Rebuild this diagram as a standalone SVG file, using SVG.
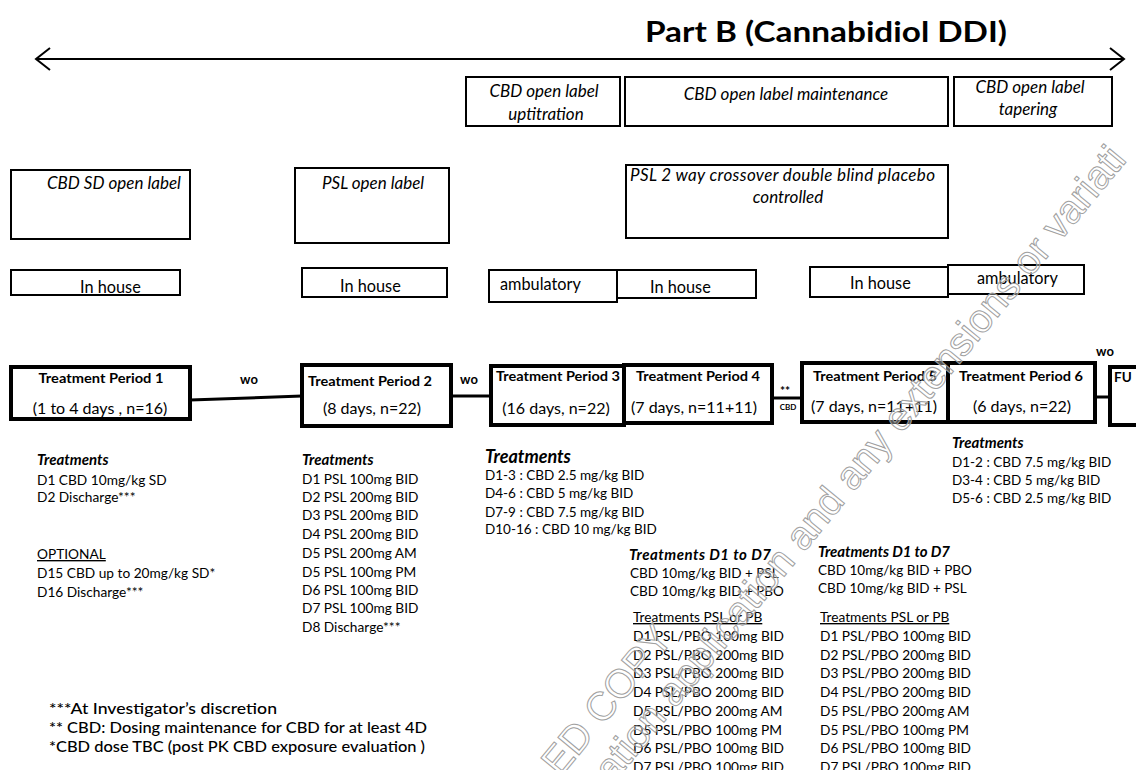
<svg xmlns="http://www.w3.org/2000/svg" width="1136" height="770" viewBox="0 0 1136 770">
<style>
text{font-family:Lato,"Liberation Sans",sans-serif;fill:#000}
.b{fill:#fff;stroke:#000;stroke-width:2}
.tp{fill:#fff;stroke:#000;stroke-width:4}
.it{font-style:italic;font-size:17px}
.lb{font-size:16.3px}
.tpt{font-weight:bold;font-size:13.5px}
.tpd{font-size:16px}
.hd{font-weight:bold;font-style:italic;font-size:15px}
.hd3{font-weight:bold;font-style:italic;font-size:18px}
.t{font-size:13.7px}
.t3{font-size:13.5px}
.fn{font-size:16px;font-weight:500}
.wo{font-weight:bold;font-size:13px}
.wm{font-family:"Liberation Sans",sans-serif;font-size:40px;fill:#fff;fill-opacity:.35;stroke:#a0a0a0;stroke-width:1}
.c{text-anchor:middle}
.ln{stroke:#000;fill:none}
</style>

<g id="title"><text x="645" y="42" font-weight="bold" font-size="29" textLength="362" lengthAdjust="spacingAndGlyphs">Part B (Cannabidiol DDI)</text></g>

<g id="connectors">
<g id="timeline-arrow">
<line class="ln" x1="37" y1="59" x2="1123" y2="59" stroke-width="2"/>
<polyline class="ln" points="50,48 36,59 50,70" stroke-width="2"/>
<polyline class="ln" points="1110,48 1124,59 1110,70" stroke-width="2"/>
</g>
<line class="ln" x1="190" y1="400" x2="302" y2="396" stroke-width="3"/>
<text class="wo c" x="249" y="384">wo</text>
<line class="ln" x1="451" y1="396" x2="491" y2="396" stroke-width="3"/>
<text class="wo c" x="469" y="384">wo</text>
<line class="ln" x1="772" y1="398" x2="802" y2="398" stroke-width="3"/>
<text class="c" x="785" y="395" font-size="12" font-weight="bold">**</text>
<text class="c" x="788" y="410" font-size="8" font-weight="bold">CBD</text>
<line class="ln" x1="1095" y1="397" x2="1110" y2="397" stroke-width="3"/>
<text class="wo c" x="1105" y="356">wo</text>
</g>

<g id="phase-uptitration"><rect class="b" x="466" y="77" width="154" height="49"/>
<text class="it c" x="544" y="97">CBD open label</text><text class="it c" x="546" y="120">uptitration</text></g>
<g id="phase-maintenance"><rect class="b" x="625" y="77" width="323" height="49"/>
<text class="it c" x="786" y="100">CBD open label maintenance</text></g>
<g id="phase-tapering"><rect class="b" x="954" y="77" width="158" height="49"/>
<text class="it c" x="1030" y="93">CBD open label</text><text class="it c" x="1028" y="115">tapering</text></g>

<g id="cbd-sd-open-label"><rect class="b" x="11" y="170" width="179" height="69"/>
<text class="it" x="47" y="189">CBD SD open label</text></g>
<g id="psl-open-label"><rect class="b" x="295" y="168" width="154" height="75"/>
<text class="it" x="322" y="189">PSL open label</text></g>
<g id="psl-crossover"><rect class="b" x="626" y="165" width="322" height="73"/>
<text class="it" x="630" y="181" textLength="305" lengthAdjust="spacing">PSL 2 way crossover double blind placebo</text>
<text class="it c" x="788" y="203">controlled</text></g>

<g id="inhouse-1"><rect class="b" x="11" y="270" width="169" height="25"/><text class="lb" x="80" y="293">In house</text></g>
<g id="inhouse-2"><rect class="b" x="302" y="268" width="145" height="29"/><text class="lb" x="340" y="292">In house</text></g>
<g id="ambulatory-3"><rect class="b" x="489" y="270" width="128" height="32"/><text class="lb" x="500" y="290">ambulatory</text></g>
<g id="inhouse-4"><rect class="b" x="617" y="270" width="139" height="28"/><text class="lb" x="650" y="293">In house</text></g>
<g id="inhouse-5"><rect class="b" x="810" y="267" width="138" height="30"/><text class="lb" x="850" y="289">In house</text></g>
<g id="ambulatory-6"><rect class="b" x="948" y="265" width="136" height="29"/><text class="lb" x="977" y="284">ambulatory</text></g>

<g id="tp1"><rect class="tp" x="11" y="367" width="179" height="52"/>
<text class="tpt c" x="101" y="383" textLength="125" lengthAdjust="spacingAndGlyphs">Treatment Period 1</text>
<text class="tpd c" x="100" y="414">(1 to 4 days , n=16)</text></g>
<g id="tp2"><rect class="tp" x="302" y="365" width="149" height="61"/>
<text class="tpt c" x="370" y="386" textLength="124" lengthAdjust="spacingAndGlyphs">Treatment Period 2</text>
<text class="tpd c" x="372" y="414">(8 days, n=22)</text></g>
<g id="tp3"><rect class="tp" x="491" y="366" width="133" height="59"/>
<text class="tpt c" x="558" y="381" textLength="124" lengthAdjust="spacingAndGlyphs">Treatment Period 3</text>
<text class="tpd c" x="556" y="414">(16 days, n=22)</text></g>
<g id="tp4"><rect class="tp" x="624" y="365" width="148" height="58"/>
<text class="tpt c" x="698" y="381" textLength="124" lengthAdjust="spacingAndGlyphs">Treatment Period 4</text>
<text class="tpd c" x="694" y="413">(7 days, n=11+11)</text></g>
<g id="tp5"><rect class="tp" x="802" y="363" width="146" height="59"/>
<text class="tpt c" x="875" y="381" textLength="124" lengthAdjust="spacingAndGlyphs">Treatment Period 5</text>
<text class="tpd c" x="874" y="412">(7 days, n=11+11)</text></g>
<g id="tp6"><rect class="tp" x="948" y="363" width="147" height="59"/>
<text class="tpt c" x="1021" y="381" textLength="124" lengthAdjust="spacingAndGlyphs">Treatment Period 6</text>
<text class="tpd c" x="1022" y="412">(6 days, n=22)</text></g>
<g id="fu"><rect class="tp" x="1110" y="367" width="34" height="58"/>
<text class="tpt" x="1114" y="382">FU</text></g>

<g id="treatments-tp1">
<text class="hd" x="37" y="465">Treatments</text>
<text class="t" x="37" y="485">D1 CBD 10mg/kg SD</text>
<text class="t" x="37" y="502">D2 Discharge***</text>
<text class="t" x="37" y="559" text-decoration="underline">OPTIONAL</text>
<text class="t" x="37" y="578">D15 CBD up to 20mg/kg SD*</text>
<text class="t" x="37" y="597">D16 Discharge***</text>
</g>
<g id="treatments-tp2">
<text class="hd" x="302" y="465">Treatments</text>
<text class="t" x="302" y="484">D1 PSL 100mg BID</text>
<text class="t" x="302" y="502">D2 PSL 200mg BID</text>
<text class="t" x="302" y="520">D3 PSL 200mg BID</text>
<text class="t" x="302" y="539">D4 PSL 200mg BID</text>
<text class="t" x="302" y="558">D5 PSL 200mg AM</text>
<text class="t" x="302" y="577">D5 PSL 100mg PM</text>
<text class="t" x="302" y="595">D6 PSL 100mg BID</text>
<text class="t" x="302" y="613">D7 PSL 100mg BID</text>
<text class="t" x="302" y="632">D8 Discharge***</text>
</g>
<g id="treatments-tp3">
<text class="hd3" x="485" y="463">Treatments</text>
<text class="t3" x="485" y="480">D1-3 : CBD 2.5 mg/kg BID</text>
<text class="t3" x="485" y="498">D4-6 : CBD 5 mg/kg BID</text>
<text class="t3" x="485" y="517">D7-9 : CBD 7.5 mg/kg BID</text>
<text class="t3" x="485" y="534">D10-16 : CBD 10 mg/kg BID</text>
</g>
<g id="treatments-tp6">
<text class="hd" x="952" y="448">Treatments</text>
<text class="t3" x="952" y="467">D1-2 : CBD 7.5 mg/kg BID</text>
<text class="t3" x="952" y="485">D3-4 : CBD 5 mg/kg BID</text>
<text class="t3" x="952" y="503">D5-6 : CBD 2.5 mg/kg BID</text>
</g>
<g id="treatments-tp4">
<text class="hd" x="629" y="560" textLength="142" lengthAdjust="spacing">Treatments  D1 to D7</text>
<text class="t3" x="630" y="578">CBD 10mg/kg BID + PSL</text>
<text class="t3" x="630" y="596">CBD 10mg/kg BID + PBO</text>
<text class="t" x="633" y="622" text-decoration="underline">Treatments PSL or PB</text>
<text class="t" x="633" y="641">D1 PSL/PBO 100mg BID</text>
<text class="t" x="633" y="660">D2 PSL/PBO 200mg BID</text>
<text class="t" x="633" y="678">D3 PSL/PBO 200mg BID</text>
<text class="t" x="633" y="697">D4 PSL/PBO 200mg BID</text>
<text class="t" x="633" y="716">D5 PSL/PBO 200mg AM</text>
<text class="t" x="633" y="735">D5 PSL/PBO 100mg PM</text>
<text class="t" x="633" y="753">D6 PSL/PBO 100mg BID</text>
<text class="t" x="633" y="772">D7 PSL/PBO 100mg BID</text>
</g>
<g id="treatments-tp5">
<text class="hd" x="818" y="557" textLength="132" lengthAdjust="spacing">Treatments  D1 to D7</text>
<text class="t3" x="818" y="575">CBD 10mg/kg BID + PBO</text>
<text class="t3" x="818" y="593">CBD 10mg/kg BID + PSL</text>
<text class="t" x="820" y="622" text-decoration="underline">Treatments PSL or PB</text>
<text class="t" x="820" y="641">D1 PSL/PBO 100mg BID</text>
<text class="t" x="820" y="660">D2 PSL/PBO 200mg BID</text>
<text class="t" x="820" y="678">D3 PSL/PBO 200mg BID</text>
<text class="t" x="820" y="697">D4 PSL/PBO 200mg BID</text>
<text class="t" x="820" y="716">D5 PSL/PBO 200mg AM</text>
<text class="t" x="820" y="735">D5 PSL/PBO 100mg PM</text>
<text class="t" x="820" y="753">D6 PSL/PBO 100mg BID</text>
<text class="t" x="820" y="772">D7 PSL/PBO 100mg BID</text>
</g>

<g id="footnotes">
<text class="fn" x="49" y="714" textLength="228" lengthAdjust="spacingAndGlyphs">***At Investigator’s discretion</text>
<text class="fn" x="49" y="733" textLength="378" lengthAdjust="spacingAndGlyphs">** CBD: Dosing maintenance for  CBD for at least 4D</text>
<text class="fn" x="49" y="752" textLength="376" lengthAdjust="spacingAndGlyphs">*CBD dose TBC (post PK CBD exposure evaluation )</text>
</g>

<g id="watermark">
<text class="wm" font-size="36" transform="translate(560,778) rotate(-50.5)">ED COPY</text>
<text class="wm" transform="translate(600,800) rotate(-50.5)">zation application and any extensions or variati</text>
</g>
</svg>
